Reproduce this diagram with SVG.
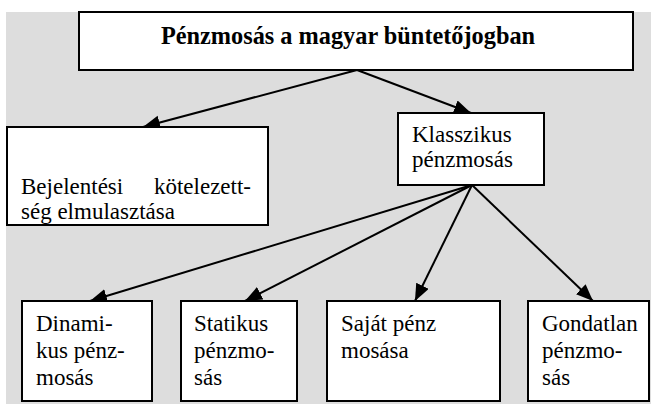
<svg xmlns="http://www.w3.org/2000/svg" width="651" height="414" viewBox="0 0 651 414">
<style>
.box{fill:#ffffff;stroke:#000000;stroke-width:2}
.t{font-family:'Liberation Serif','Tinos','DejaVu Serif',serif;font-size:23px;fill:#000}
.title{font-family:'Liberation Serif','Tinos','DejaVu Serif',serif;font-size:24.3px;font-weight:bold;fill:#000}
.conn{stroke:#000;stroke-width:2;fill:none;marker-end:url(#ah)}
</style>
<defs>
<marker id="ah" markerUnits="userSpaceOnUse" markerWidth="19" markerHeight="15" refX="17" refY="7" orient="auto">
<path d="M0,0 L17,7 L0,14 Z" fill="#000"/>
</marker>
</defs>
<rect x="6" y="12" width="645" height="392" fill="#dddddd"/>
<g id="connectors">
<line class="conn" x1="357" y1="70" x2="143" y2="127"/>
<line class="conn" x1="357" y1="70" x2="471" y2="113"/>
<line class="conn" x1="472" y1="185" x2="90" y2="301"/>
<line class="conn" x1="472" y1="185" x2="245" y2="301"/>
<line class="conn" x1="472" y1="185" x2="415" y2="301"/>
<line class="conn" x1="472" y1="185" x2="593" y2="301"/>
</g>
<g id="n-root">
<rect class="box" x="79" y="12" width="554" height="58"/>
<text class="title" x="348" y="44" text-anchor="middle">Pénzmosás a magyar büntetőjogban</text>
</g>
<g id="n-bejelentesi">
<rect class="box" x="7" y="127" width="261" height="98"/>
<text class="t" x="21" y="194">Bejelentési</text>
<text class="t" x="251" y="194" text-anchor="end">kötelezett-</text>
<text class="t" x="21" y="219">ség elmulasztása</text>
</g>
<g id="n-klasszikus">
<rect class="box" x="398" y="113" width="146" height="72"/>
<text class="t" x="412" y="142">Klasszikus</text>
<text class="t" x="412" y="167">pénzmosás</text>
</g>
<g id="n-dinamikus">
<rect class="box" x="22" y="301" width="130" height="100"/>
<text class="t" x="36" y="331">Dinami-</text>
<text class="t" x="36" y="358">kus pénz-</text>
<text class="t" x="36" y="385">mosás</text>
</g>
<g id="n-statikus">
<rect class="box" x="181" y="301" width="116" height="100"/>
<text class="t" x="194" y="331">Statikus</text>
<text class="t" x="194" y="358">pénzmo-</text>
<text class="t" x="194" y="385">sás</text>
</g>
<g id="n-sajat">
<rect class="box" x="327" y="301" width="173" height="100"/>
<text class="t" x="341" y="331">Saját pénz</text>
<text class="t" x="341" y="358">mosása</text>
</g>
<g id="n-gondatlan">
<rect class="box" x="528" y="301" width="121" height="100"/>
<text class="t" x="542" y="331">Gondatlan</text>
<text class="t" x="542" y="358">pénzmo-</text>
<text class="t" x="542" y="385">sás</text>
</g>
</svg>
